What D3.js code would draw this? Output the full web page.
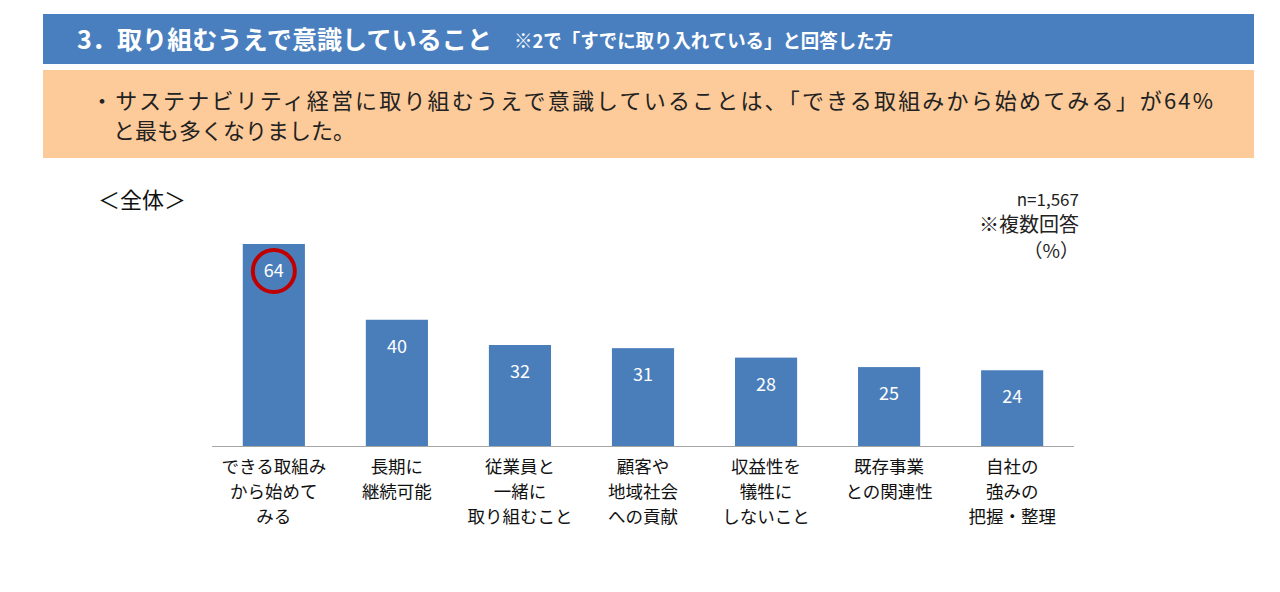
<!DOCTYPE html>
<html><head><meta charset="utf-8">
<script src="https://cdn.jsdelivr.net/npm/d3@7"></script>
<style>html,body{margin:0;padding:0;background:#fff;}svg{display:block;font-family:"Noto Sans CJK JP","Noto Sans",sans-serif;}</style>
</head><body>
<svg id="c" width="1280" height="592"></svg>
<script>
const categories = [
  ["できる取組み","から始めて","みる"],
  ["長期に","継続可能"],
  ["従業員と","一緒に","取り組むこと"],
  ["顧客や","地域社会","への貢献"],
  ["収益性を","犠牲に","しないこと"],
  ["既存事業","との関連性"],
  ["自社の","強みの","把握・整理"]
];
const values = [64, 40, 32, 31, 28, 25, 24];
const highlightIndex = 0;
const titleMain = "3．取り組むうえで意識していること";
const titleSub = "※2で「すでに取り入れている」と回答した方";
const summaryLines = ["・サステナビリティ経営に取り組むうえで意識していることは、「できる取組みから始めてみる」が64%", "と最も多くなりました。"];
const notes = ["n=1,567", "※複数回答", "（%）"];

const svg = d3.select("#c");
const blue = "#4a7ebb";

// header banner
svg.append("rect").attr("x",43).attr("y",14).attr("width",1211).attr("height",50).attr("fill","#4a7fbf");
svg.append("text").attr("x",77).attr("y",49).attr("fill","#fff").attr("font-weight","bold").attr("font-size",25)
  .attr("textLength",415).attr("lengthAdjust","spacingAndGlyphs").text(titleMain);
svg.append("text").attr("x",514).attr("y",48).attr("fill","#fff").attr("font-weight","bold").attr("font-size",19)
  .attr("textLength",379).attr("lengthAdjust","spacingAndGlyphs").text(titleSub);

// summary box
svg.append("rect").attr("x",43).attr("y",70).attr("width",1211).attr("height",88).attr("fill","#fdca99");
svg.append("text").attr("x",91).attr("y",109).attr("fill","#222").attr("font-size",22)
  .attr("textLength",1122).attr("lengthAdjust","spacing").text(summaryLines[0]);
svg.append("text").attr("x",113).attr("y",139).attr("fill","#222").attr("font-size",22).text(summaryLines[1]);

svg.append("text").attr("x",98).attr("y",208).attr("fill","#111").attr("font-size",22).text("＜全体＞");

const noteSizes = [17, 20, 19];
notes.forEach((t,i)=>{
  svg.append("text").attr("x",1079).attr("y",206+i*26).attr("text-anchor","end").attr("fill","#222").attr("font-size",noteSizes[i]).text(t);
});

// chart
const x = d3.scaleBand().domain(d3.range(values.length)).range([212,1074]).paddingInner(0.495).paddingOuter(0.25);
const y = d3.scaleLinear().domain([0,64]).range([446,244]);

svg.selectAll("rect.bar").data(values).join("rect").attr("class","bar")
  .attr("x",(d,i)=>x(i)).attr("width",x.bandwidth())
  .attr("y",d=>y(d)).attr("height",d=>y(0)-y(d)).attr("fill",blue);

svg.append("line").attr("x1",212).attr("x2",1074).attr("y1",y(0)+0.5).attr("y2",y(0)+0.5).attr("stroke","#a6a6a6").attr("stroke-width",1);

svg.selectAll("text.val").data(values).join("text").attr("class","val")
  .attr("x",(d,i)=>x(i)+x.bandwidth()/2).attr("y",d=>y(d)+33)
  .attr("text-anchor","middle").attr("fill","#fff").attr("font-size",18).text(d=>d);

// highlight circle
svg.append("circle").attr("cx",x(highlightIndex)+x.bandwidth()/2).attr("cy",y(values[highlightIndex])+27)
  .attr("r",21).attr("fill","none").attr("stroke","#c00000").attr("stroke-width",4);

const cg = svg.selectAll("g.cat").data(categories).join("g").attr("class","cat");
cg.each(function(lines,i){
  const g = d3.select(this);
  lines.forEach((l,j)=>{
    g.append("text").attr("x",x(i)+x.bandwidth()/2).attr("y",473+j*25)
      .attr("text-anchor","middle").attr("fill","#111").attr("font-size",17.5).text(l);
  });
});
</script>
</body></html>
